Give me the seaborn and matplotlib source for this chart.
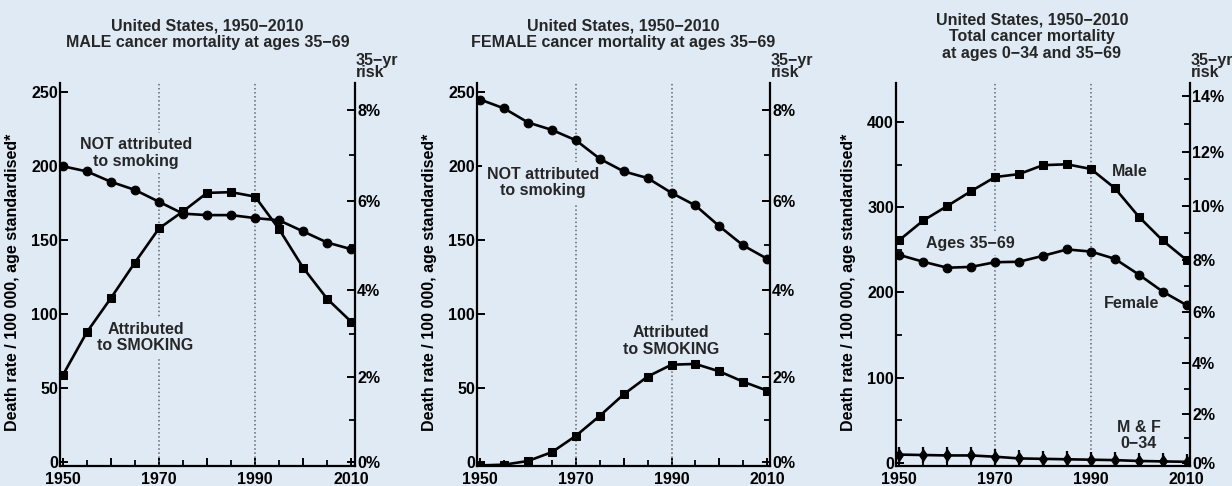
import numpy as np
import pandas as pd
import seaborn as sns
import matplotlib.pyplot as plt

# ===============================
# DATA
# ===============================
years = [1950, 1955, 1960, 1965, 1970, 1975, 1980, 1985, 1990, 1995, 2000, 2005, 2010]

male_not_smoking = [200, 196.5, 189.5, 184, 176, 168, 167, 167, 165, 163.5, 156, 148.5, 144]
male_smoking     = [59, 88, 111, 135, 158, 169.5, 182, 182.5, 179.5, 157.5, 131.5, 110.5, 95]

female_not_smoking = [245, 239, 229.5, 224.5, 217.5, 205, 196.5, 192, 182, 173.5, 159.5, 146.5, 137.5]
female_smoking     = [-2, -1.5, 1, 7, 18, 31.5, 46, 58, 66, 66.5, 61.5, 54.5, 48.5]

total_male_35_69   = [261.5, 284.5, 301.5, 319, 335.5, 339, 349.5, 350.5, 345, 322.5, 289, 261, 238]
total_female_35_69 = [244, 236, 229, 230, 235.5, 236, 243, 250.5, 248, 239.5, 221, 201, 185]
total_mf_0_34      = [9.5, 9, 8.5, 8.5, 7, 5, 4.5, 4, 3.5, 3, 2, 1.5, 1]

risk_major_small = [0, 2, 4, 6, 8]
risk_minor_small = [1, 3, 5, 7]
risk_major_big   = [0, 2, 4, 6, 8, 10, 12, 14]
risk_minor_big   = [1, 3, 5, 7, 9, 11, 13]

titles = [
    "United States, 1950\u22122010\nMALE cancer mortality at ages 35\u221269",
    "United States, 1950\u22122010\nFEMALE cancer mortality at ages 35\u221269",
    "United States, 1950\u22122010\nTotal cancer mortality\nat ages 0\u221234 and 35\u221269",
]
YLABEL = "Death rate / 100 000, age standardised*"

# ===============================
# STYLE
# ===============================
BG = "#dfeaf5"
sns.set_theme(style="ticks")
plt.rcParams["font.family"] = ["Liberation Sans", "DejaVu Sans"]
plt.rcParams["font.weight"] = "bold"
plt.rcParams["axes.labelweight"] = "bold"
plt.rcParams["axes.linewidth"] = 1.6
plt.rcParams["figure.facecolor"] = BG
plt.rcParams["axes.facecolor"] = BG

FS = 11.5


def rate_for_risk(pcts):
    # 35-yr risk  ->  annual rate / 100 000
    p = np.asarray(pcts, dtype=float) / 100
    return -np.log(1 - p) / 35 * 1e5


fig = plt.figure(figsize=(12.32, 4.86), dpi=100)
W, H = 1232, 486

# axes boxes in pixels: left, right, top, bottom
boxes = [(60, 355, 83, 466), (477, 770, 83, 466), (896, 1190, 83, 466)]
axes = []
for l, r, t, b in boxes:
    axes.append(fig.add_axes([l / W, 1 - b / H, (r - l) / W, (b - t) / H]))


def style_axis(ax, ylim, yticks, yminor, risk_major, risk_minor, xlim):
    ax.set_xlim(*xlim)
    ax.set_ylim(*ylim)
    ax.axvline(1970, color="#666666", ls=":", lw=1.1, zorder=1)
    ax.axvline(1990, color="#666666", ls=":", lw=1.1, zorder=1)
    ax.set_xticks([1950, 1960, 1970, 1980, 1990, 2000, 2010])
    ax.set_xticklabels(["1950", "", "1970", "", "1990", "", "2010"])
    ax.set_xticks(years, minor=True)
    ax.set_yticks(yticks)
    ax.set_yticks(yminor, minor=True)
    ax.tick_params(axis="both", which="major", direction="in", length=6, width=1.4,
                   labelsize=FS, pad=1.5, color="black", labelcolor="black")
    ax.tick_params(axis="both", which="minor", direction="in", length=4, width=1.3,
                   color="black")
    ax.tick_params(axis="x", which="major", pad=4.5)
    for lab in ax.get_xticklabels() + ax.get_yticklabels():
        lab.set_fontweight("bold")
    ax.spines["top"].set_visible(False)
    ax.spines["right"].set_visible(False)
    for s in ("left", "bottom"):
        ax.spines[s].set_color("black")
    ax.set_xlabel("")
    ax.set_ylabel(YLABEL, fontsize=FS, fontweight="bold", color="black")
    ax.yaxis.set_label_coords(-0.135, 0.48)

    ax2 = ax.twinx()
    ax2.set_ylim(*ylim)
    ax2.set_yticks(rate_for_risk(risk_major))
    ax2.set_yticklabels([f"{p}%" for p in risk_major])
    ax2.set_yticks(rate_for_risk(risk_minor), minor=True)
    ax2.tick_params(axis="y", which="major", direction="in", length=6, width=1.4,
                    labelsize=FS, pad=1.5, color="black", labelcolor="black")
    ax2.tick_params(axis="y", which="minor", direction="in", length=4, width=1.3,
                    color="black")
    for lab in ax2.get_yticklabels():
        lab.set_fontweight("bold")
    for s in ("top", "left", "bottom"):
        ax2.spines[s].set_visible(False)
    ax2.spines["right"].set_color("black")
    ax2.patch.set_visible(False)
    ax2.text(1.003, 1.008, "35\u2212yr\nrisk", transform=ax2.transAxes, ha="left",
             va="bottom", fontsize=FS, fontweight="bold", linespacing=0.72)
    return ax2


def series(ax, vals, marker, ms):
    df = pd.DataFrame({"year": years, "rate": vals})
    sns.lineplot(data=df, x="year", y="rate", ax=ax, color="black", lw=1.9,
                 marker=marker, markersize=ms, markeredgecolor="black",
                 markerfacecolor="black", zorder=3)


def label(ax, x, y, s):
    ax.text(x, y, s, ha="center", va="center", fontsize=FS, fontweight="bold",
            linespacing=1.1, zorder=2,
            bbox=dict(boxstyle="square,pad=0.3", facecolor=BG, edgecolor="none"))


# ---- panel 1: male
ax = axes[0]
series(ax, male_not_smoking, "o", 6.3)
series(ax, male_smoking, "s", 6.3)
style_axis(ax, (-2.4, 256.2), [0, 50, 100, 150, 200, 250], [],
           risk_major_small, risk_minor_small, (1949.4, 2010.8))
label(ax, 1965.2, 209, "NOT attributed\nto smoking")
label(ax, 1967.2, 84.5, "Attributed\nto SMOKING")

# ---- panel 2: female
ax = axes[1]
series(ax, female_not_smoking, "o", 6.3)
series(ax, female_smoking, "s", 6.3)
style_axis(ax, (-2.4, 256.2), [0, 50, 100, 150, 200, 250], [],
           risk_major_small, risk_minor_small, (1949.3, 2010.6))
label(ax, 1963.1, 189, "NOT attributed\nto smoking")
label(ax, 1989.9, 82, "Attributed\nto SMOKING")

# ---- panel 3: total
ax = axes[2]
series(ax, total_male_35_69, "s", 6.3)
series(ax, total_female_35_69, "o", 6.3)
series(ax, total_mf_0_34, "d", 6.3)
sns.lineplot(x=years, y=total_mf_0_34, ax=ax, color="black", lw=0, marker="|",
             markersize=11, markeredgewidth=1.6, markeredgecolor="black", zorder=3)
style_axis(ax, (-3.9, 446), [0, 100, 200, 300, 400], [50, 150, 250, 350],
           risk_major_big, risk_minor_big, (1949.3, 2010.7))
label(ax, 1998.2, 342, "Male")
label(ax, 1964.8, 258, "Ages 35\u221269")
label(ax, 1998.5, 187, "Female")
label(ax, 2000.0, 32, "M & F\n0\u221234")

# ---- titles
title_pos = [(207.5, 34), (623, 34), (1032, 36.5)]
for (x, y), t in zip(title_pos, titles):
    fig.text(x / W, 1 - y / H, t, ha="center", va="center", fontsize=FS,
             fontweight="bold", linespacing=1.15)

plt.savefig("out.png", dpi=100, facecolor=BG)
